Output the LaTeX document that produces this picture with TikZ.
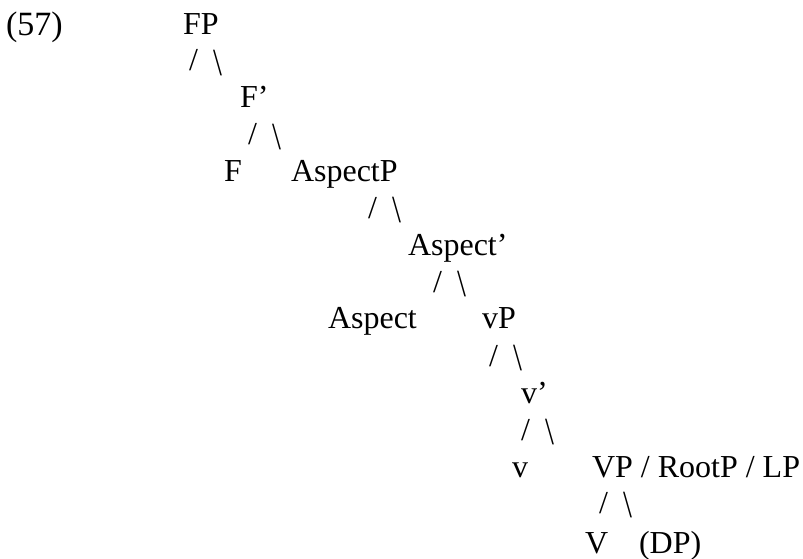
\documentclass[tikz,border=0pt]{standalone}
\usepackage{fontspec}
\setmainfont{Liberation Serif}
\newcommand\brkpair{/\hspace{0.5em}\raisebox{-4.5pt}{\scalebox{1}[1.2]{\textbackslash}}}
\begin{document}
\begin{tikzpicture}[x=1pt,y=-1pt,
  lab/.style={anchor=base west,inner sep=0pt,outer sep=0pt,font=\fontsize{32}{38}\selectfont},
  brk/.style={lab}]
\useasboundingbox (0,0) rectangle (803,559);
\node[lab,font=\fontsize{34}{40}\selectfont] (ex) at (6,36) {(57)};
\node[lab] (fp) at (183,35) {FP};
\node[brk] (s1) at (189,71) {\brkpair};
\node[lab] (fbar) at (240,108) {F’};
\node[brk] (s2) at (248,145) {\brkpair};
\node[lab] (f) at (224,182) {F};
\node[lab] (aspp) at (291,182) {AspectP};
\node[brk] (s3) at (368,218) {\brkpair};
\node[lab] (aspbar) at (408,255) {Aspect’};
\node[brk] (s4) at (433,292) {\brkpair};
\node[lab] (asp) at (328,328) {Aspect};
\node[lab] (vp) at (482,328) {vP};
\node[brk] (s5) at (489,366) {\brkpair};
\node[lab] (vbar) at (521,403) {v’};
\node[brk] (s6) at (521,440) {\brkpair};
\node[lab] (v) at (512,477) {v};
\node[lab] (bigvp) at (592,477) {VP / RootP / LP};
\node[brk] (s7) at (599,513) {\brkpair};
\node[lab] (bigv) at (585,553) {V};
\node[lab] (dp) at (639,553) {(DP)};
\end{tikzpicture}
\end{document}
